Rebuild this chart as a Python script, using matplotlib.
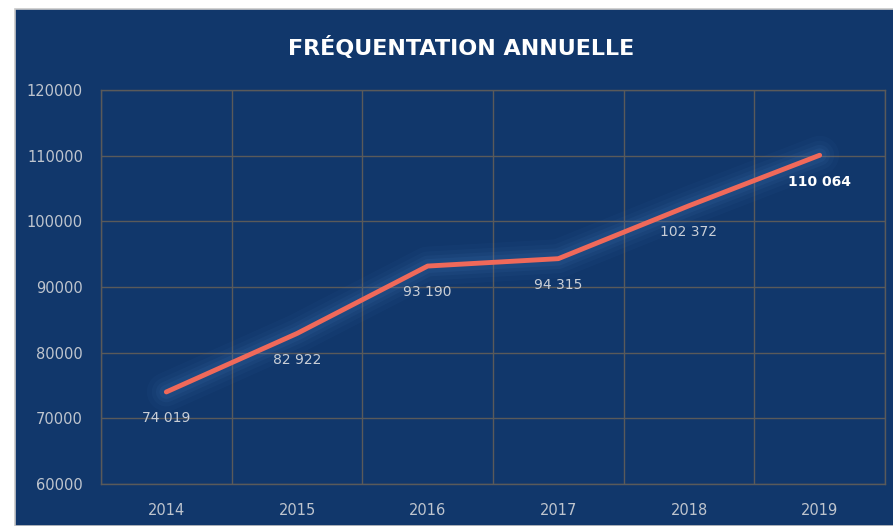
import matplotlib
matplotlib.use('Agg')
import matplotlib.pyplot as plt
from matplotlib.patches import Rectangle

annees = ['2014', '2015', '2016', '2017', '2018', '2019']
visiteurs = [74019, 82922, 93190, 94315, 102372, 110064]
etiquettes = ['74 019', '82 922', '93 190', '94 315', '102 372', '110 064']
yticks = [60000, 70000, 80000, 90000, 100000, 110000, 120000]

fond = '#11376B'
grille = '#5A5A5A'

fig = plt.figure(figsize=(8.93, 5.26), dpi=100)
fig.patch.set_facecolor('white')
fig.patches.append(Rectangle((15/893, 0), 1, 1 - 9/526, transform=fig.transFigure,
                             facecolor=fond, edgecolor='#C8C8C8', linewidth=1.2, zorder=-10))

ax = fig.add_axes([101/893, 42/526, 784/893, 394/526])
ax.set_facecolor(fond)

x = list(range(len(annees)))

# halo autour de la courbe
for w, a in [(28, 0.05), (21, 0.06), (15, 0.08), (10, 0.10)]:
    ax.plot(x, visiteurs, color='#4A80C4', linewidth=w, alpha=a,
            solid_capstyle='round', solid_joinstyle='round', zorder=2)
ax.plot(x, visiteurs, color='#F0695A', linewidth=3.5,
        solid_capstyle='round', solid_joinstyle='round', zorder=3)

for i, (v, t) in enumerate(zip(visiteurs, etiquettes)):
    last = i == len(visiteurs) - 1
    ax.annotate(t, (i, v), xytext=(0, -19), textcoords='offset points',
                ha='center', va='center', fontsize=10,
                color='white' if last else '#C9CED6',
                fontweight='bold' if last else 'normal', zorder=4)

ax.set_xlim(-0.5, len(annees) - 0.5)
ax.set_ylim(60000, 120000)
ax.set_yticks(yticks)
ax.set_yticklabels([str(v) for v in yticks])
ax.set_xticks(x)
ax.set_xticklabels(annees)
ax.set_xticks([i - 0.5 for i in range(len(annees) + 1)], minor=True)

ax.grid(axis='y', which='major', color=grille, linewidth=1)
ax.grid(axis='x', which='minor', color=grille, linewidth=1)
ax.set_axisbelow(True)
for s in ax.spines.values():
    s.set_color(grille)
    s.set_linewidth(1)

ax.tick_params(axis='both', which='both', length=0, colors='#BFC5CE', labelsize=10.5)
ax.tick_params(axis='y', pad=13)
ax.tick_params(axis='x', pad=14)

fig.text(461/893, 1 - 47/526, 'FRÉQUENTATION ANNUELLE', ha='center', va='center',
         color='white', fontsize=16, fontweight='bold', family='DejaVu Sans')

fig.savefig('out.png', dpi=100, facecolor=fig.get_facecolor())
